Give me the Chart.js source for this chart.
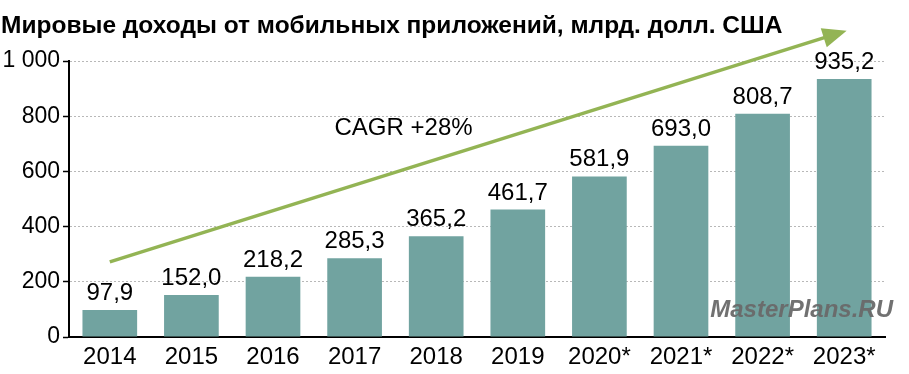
<!DOCTYPE html>
<html>
<head>
<meta charset="utf-8">
<script src="https://cdn.jsdelivr.net/npm/chart.js@4"></script>
<style>
  html, body { margin: 0; padding: 0; background: #fff; }
  #wrap { width: 909px; height: 374px; }
</style>
</head>
<body>
<div id="wrap"><canvas id="myChart" width="909" height="374"></canvas></div>
<script>
const title = 'Мировые доходы от мобильных приложений, млрд. долл. США';
const years = ['2014', '2015', '2016', '2017', '2018', '2019', '2020*', '2021*', '2022*', '2023*'];
const revenue = [97.9, 152.0, 218.2, 285.3, 365.2, 461.7, 581.9, 693.0, 808.7, 935.2];
const yTicks = [0, 200, 400, 600, 800, 1000];
// trend arrow in data coordinates (category index, value)
const arrowFrom = [0, 272];
const arrowTo = [9.03, 1110];
const cagrLabel = 'CAGR +28%';
const cagrAt = [3.6, 757];
const watermark = 'MasterPlans.RU';

const FONT = "'Liberation Sans', Arial, sans-serif";

const fmt = v => v.toFixed(1).replace('.', ',');

const extras = {
    id: 'extras',
    afterDatasetsDraw(chart) {
        const c = chart.ctx;
        const xs = chart.scales.x, ys = chart.scales.y;
        c.save();
        // value labels
        c.fillStyle = '#000';
        c.font = '24px ' + FONT;
        c.textAlign = 'center';
        c.textBaseline = 'alphabetic';
        chart.getDatasetMeta(0).data.forEach((bar, i) => {
            c.fillText(fmt(revenue[i]), bar.x, bar.y - 10);
        });

        // arrow
        const x1 = xs.getPixelForValue(arrowFrom[0]), y1 = ys.getPixelForValue(arrowFrom[1]);
        const x2 = xs.getPixelForValue(arrowTo[0]), y2 = ys.getPixelForValue(arrowTo[1]);
        const ang = Math.atan2(y2 - y1, x2 - x1);
        const headLen = 24, headW = 10;
        c.strokeStyle = '#93b454';
        c.fillStyle = '#93b454';
        c.lineWidth = 3.5;
        c.beginPath();
        c.moveTo(x1, y1);
        c.lineTo(x2 - Math.cos(ang) * headLen * 0.8, y2 - Math.sin(ang) * headLen * 0.8);
        c.stroke();
        c.beginPath();
        c.moveTo(x2, y2);
        c.lineTo(x2 - Math.cos(ang) * headLen - Math.sin(ang) * headW, y2 - Math.sin(ang) * headLen + Math.cos(ang) * headW);
        c.lineTo(x2 - Math.cos(ang) * headLen + Math.sin(ang) * headW, y2 - Math.sin(ang) * headLen - Math.cos(ang) * headW);
        c.closePath();
        c.fill();

        // CAGR text
        c.fillStyle = '#000';
        c.font = '24px ' + FONT;
        c.textBaseline = 'middle';
        c.fillText(cagrLabel, xs.getPixelForValue(cagrAt[0]), ys.getPixelForValue(cagrAt[1]));

        // watermark
        c.font = 'italic bold 24px ' + FONT;
        c.fillStyle = 'rgba(105,105,105,0.95)';
        c.textAlign = 'right';
        c.fillText(watermark, 893, 310);

        // title
        c.font = 'bold 24.5px ' + FONT;
        c.fillStyle = '#000';
        c.textAlign = 'left';
        c.textBaseline = 'middle';
        c.fillText(title, 1, 26);
        c.restore();
    }
};

new Chart(document.getElementById('myChart'), {
    type: 'bar',
    data: {
        labels: years,
        datasets: [{
            data: revenue,
            backgroundColor: '#71a3a0',
            barPercentage: 0.67,
            categoryPercentage: 1
        }]
    },
    options: {
        responsive: false,
        animation: false,
        layout: { padding: { top: 61, right: 24, left: 0, bottom: 0 } },
        plugins: { legend: { display: false }, tooltip: { enabled: false } },
        scales: {
            x: {
                afterFit: s => { s.height = 37; },
                grid: { display: false, drawTicks: false },
                border: { display: true, color: '#000', width: 2 },
                ticks: { color: '#000', font: { family: FONT, size: 24 }, padding: 6 }
            },
            y: {
                min: 0,
                max: 1000,
                afterFit: s => { s.width = 69; },
                afterBuildTicks: s => { s.ticks = yTicks.map(v => ({ value: v })); },
                grid: {
                    color: '#b8b8b8',
                    lineWidth: 1,
                    tickColor: '#000',
                    tickLength: 6,
                    tickWidth: 1.5
                },
                border: { color: '#000', width: 2, dash: [2, 2] },
                ticks: {
                    color: '#000',
                    font: { family: FONT, size: 23 },
                    padding: 3,
                    callback: v => v === 1000 ? '1 000' : String(v)
                }
            }
        }
    },
    plugins: [extras]
});
</script>
</body>
</html>
